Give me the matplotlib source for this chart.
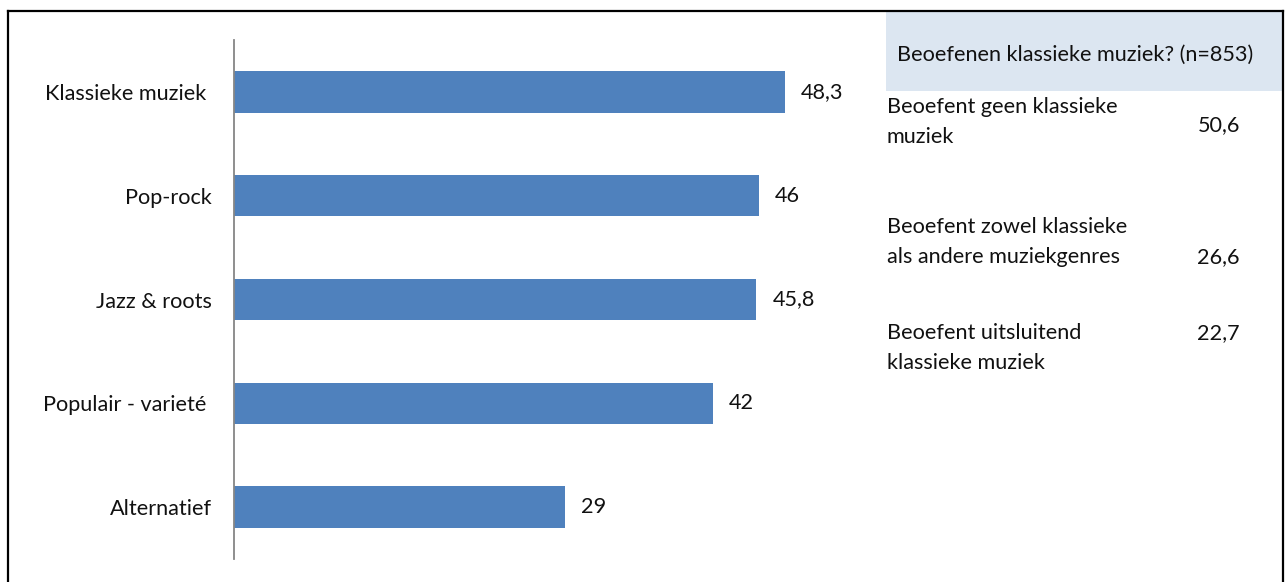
import matplotlib.pyplot as plt
from matplotlib.patches import Rectangle
from matplotlib.lines import Line2D

plt.rcParams['font.family'] = ['Lato', 'DejaVu Sans']

# data
genres = ["Klassieke muziek ", "Pop-rock", "Jazz & roots", "Populair - varieté ", "Alternatief"]
scores = [48.3, 46, 45.8, 42, 29]

side_title = "Beoefenen klassieke muziek? (n=853)"
side_labels = ["Beoefent geen klassieke\nmuziek",
               "Beoefent zowel klassieke\nals andere muziekgenres",
               "Beoefent uitsluitend\nklassieke muziek"]
side_values = [50.6, 26.6, 22.7]

W, H = 1288, 582
FS = 15.6
fig = plt.figure(figsize=(W / 100, H / 100), dpi=100)

# outer frame (open at the bottom)
fig.add_artist(Line2D([8 / W, 8 / W], [0, 1 - 11 / H], color='black', lw=1.6))
fig.add_artist(Line2D([8 / W, 1283 / W], [1 - 11 / H, 1 - 11 / H], color='black', lw=1.6))
fig.add_artist(Line2D([1283 / W, 1283 / W], [0, 1 - 11 / H], color='black', lw=1.6))

ax = fig.add_axes([234 / W, 23 / H, 616 / W, 519 / H])
ypos = list(range(len(genres)))
ax.barh(ypos, scores, height=0.4, color='#4F81BD')
ax.set_xlim(0, 54)
ax.set_ylim(len(genres) - 0.5, -0.5)
ax.set_yticks(ypos)
ax.set_yticklabels(genres, fontsize=FS, color='#111111')
ax.tick_params(axis='y', length=0, pad=16)
ax.set_xticks([])
for s in ['top', 'right', 'bottom']:
    ax.spines[s].set_visible(False)
ax.spines['left'].set_color('#868686')
ax.spines['left'].set_linewidth(1.3)

for y, v in zip(ypos, scores):
    ax.annotate(f"{v:g}".replace('.', ','), (v, y), xytext=(11.5, 0), textcoords='offset points',
                va='center', ha='left', fontsize=FS, color='#111111')

# side table
fig.add_artist(Rectangle((886 / W, 1 - 91 / H), (1282 - 886) / W, (91 - 12) / H,
                         facecolor='#DCE6F1', edgecolor='none'))
fig.text(897 / W, 1 - 55 / H, side_title, fontsize=FS, va='center', ha='left', color='#111111')

label_y = [122, 242, 348]
value_y = [125, 257, 333]
for lab, v, ly, vy in zip(side_labels, side_values, label_y, value_y):
    fig.text(887 / W, 1 - ly / H, lab, fontsize=FS, va='center', ha='left',
             linespacing=1.62, color='#111111')
    fig.text(1240 / W, 1 - vy / H, f"{v:g}".replace('.', ','), fontsize=FS,
             va='center', ha='right', color='#111111')

fig.savefig('out.png', dpi=100)
